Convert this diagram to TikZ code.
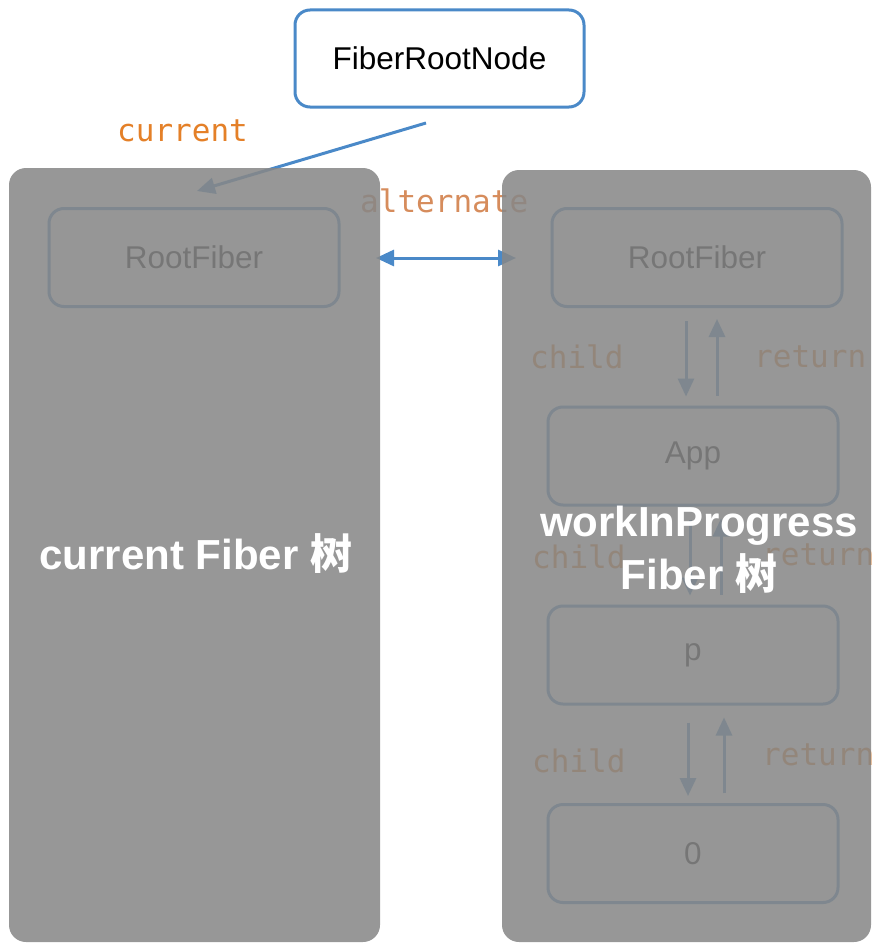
\documentclass[tikz,border=0pt]{standalone}
\usepackage{fontspec}
\setmainfont{Liberation Sans}
\newfontfamily\cjk{Noto Sans CJK SC}
\newfontfamily\mono{DejaVu Sans Mono}
\usetikzlibrary{arrows.meta}
\definecolor{bblue}{RGB}{74,137,200}
\definecolor{oorange}{RGB}{228,128,40}
\definecolor{altorange}{RGB}{214,140,92}
\definecolor{panelgray}{RGB}{135,135,135}
\definecolor{boxtext}{RGB}{10,10,10}
\tikzset{
  fbox/.style={draw=bblue, line width=3pt, rounded corners=15pt, fill=white,
    minimum width=290pt, minimum height=98pt, inner sep=0pt,
    font=\fontsize{31.5}{36}\selectfont, text=boxtext},
  lbl/.style={font=\mono\fontsize{31}{36}\selectfont, text=oorange, inner sep=0pt},
  arr/.style={draw=bblue, line width=3pt, -{Triangle[length=18pt,width=16pt]}},
  dblarr/.style={draw=bblue, line width=3pt, {Triangle[length=18pt,width=16pt]}-{Triangle[length=18pt,width=16pt]}},
  panel/.style={fill=panelgray, fill opacity=0.87, rounded corners=17pt, draw=none, inner sep=0pt},
  ttl/.style={font=\bfseries\fontsize{42}{53}\selectfont, text=white, align=center, inner sep=0pt}
}
\begin{document}
\begin{tikzpicture}[x=1pt, y=-1pt]
  \useasboundingbox (0,0) rectangle (876,950);
  % top node
  \node[fbox, text=black, minimum width=289pt, minimum height=97pt] (frn) at (439.5,58.5) {FiberRootNode};
  % left tree
  \node[fbox] (rf1) at (194,257.5) {RootFiber};
  % right tree
  \node[fbox] (rf2) at (697,257.5) {RootFiber};
  \node[fbox] (app) at (693,456) {App};
  \node[fbox] (p) at (693,655) {p};
  \node[fbox] (zero) at (693,853.5) {0};
  % current pointer
  \coordinate (cs) at (426,123);
  \coordinate (ce) at (197,191);
  \draw[arr] (cs) -- (ce);
  \node[lbl, anchor=west] (lcur) at (117,131) {current};
  % alternate
  \node[lbl, text=altorange, anchor=west] (lalt) at (360,201) {alternate};
  \coordinate (as) at (376,258);
  \coordinate (ae) at (516,258);
  \draw[dblarr] (as) -- (ae);
  % child / return arrows
  \draw[arr] ([shift={(-11,13)}]rf2.south) -- ([shift={(-7,-9)}]app.north);
  \draw[arr] ([shift={(24,-10)}]app.north) -- ([shift={(20,11)}]rf2.south);
  \node[lbl, anchor=west] (c1) at (530,357) {child};
  \node[lbl, anchor=west] (r1) at (754,357) {return};
  \draw[arr] ([shift={(-3,13)}]app.south) -- ([shift={(-3,-9)}]p.north);
  \draw[arr] ([shift={(28,-10)}]p.north) -- ([shift={(28,12)}]app.south);
  \node[lbl, anchor=west] (c2) at (532,557) {child};
  \node[lbl, anchor=west] (r2) at (762,555) {return};
  \draw[arr] ([shift={(-5,17)}]p.south) -- ([shift={(-5,-7)}]zero.north);
  \draw[arr] ([shift={(31,-10)}]zero.north) -- ([shift={(31,12)}]p.south);
  \node[lbl, anchor=west] (c3) at (532,761) {child};
  \node[lbl, anchor=west] (r3) at (762,755) {return};
  % overlay panels
  \node[panel, minimum width=371pt, minimum height=774pt] (lp) at (194.5,555) {};
  \node[panel, minimum width=369pt, minimum height=772pt] (rp) at (686.5,556) {};
  % titles
  \node[ttl, anchor=base] (t1) at (196,569) {current Fiber {\cjk 树}};
  \node[ttl] (t2) at (699,550) {workInProgress\\ Fiber {\cjk 树}};
\end{tikzpicture}
\end{document}
